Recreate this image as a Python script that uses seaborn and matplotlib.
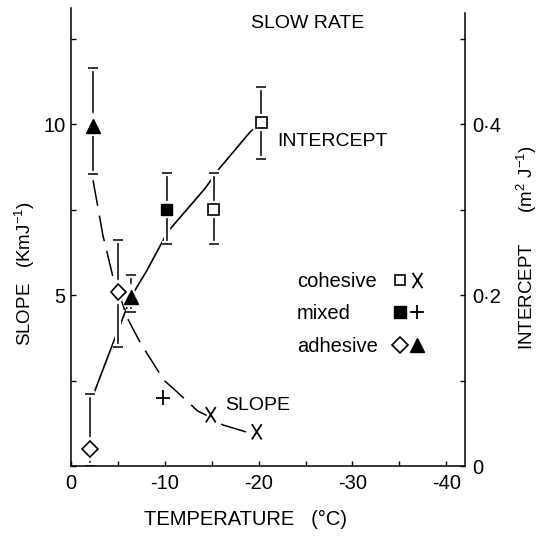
import matplotlib
matplotlib.use("Agg")
import matplotlib.pyplot as plt
import matplotlib.patheffects as pe
import seaborn as sns
from matplotlib.lines import Line2D
from matplotlib.path import Path
from matplotlib.legend_handler import HandlerTuple
from matplotlib.ticker import MultipleLocator, FuncFormatter

# ---- slope data (left axis, K m J^-1) ----
slope_temp = [-2.35, -5.05, -9.8, -14.9, -19.8]
slope_val = [9.95, 5.1, 2.0, 1.5, 1.0]
slope_mode = ["adhesive", "adhesive", "mixed", "cohesive", "cohesive"]
# error bars on the slope points that carry them
slope_err_temp = [-2.35, -5.05]
slope_err_val = [9.95, 5.1]
slope_err_lo = [8.54, 3.48]
slope_err_hi = [11.64, 6.61]

# ---- intercept data (right axis, m^2 J^-1) ----
int_temp = [-2.0, -6.4, -10.2, -15.2, -20.3]
int_val = [0.020, 0.198, 0.300, 0.300, 0.402]
int_mode = ["adhesive", "adhesive", "mixed", "cohesive", "cohesive"]
int_lo = [0.000, 0.180, 0.260, 0.260, 0.359]
int_hi = [0.084, 0.224, 0.343, 0.343, 0.443]

# ---- hand-fitted trend curves ----
slope_fit_temp = [-2.35, -3.4, -4.5, -5.05, -6.0, -7.4, -9.9, -11.1, -13.5, -14.9, -16.2, -19.0, -19.8]
slope_fit_val = [8.36, 6.75, 5.50, 5.10, 4.33, 3.60, 2.51, 2.22, 1.61, 1.42, 1.20, 0.97, 0.98]
int_fit_temp = [-2.4, -4.7, -6.4, -8.1, -10.3, -14.3, -15.8, -19.1, -20.3]
int_fit_val = [0.084, 0.150, 0.198, 0.229, 0.274, 0.325, 0.348, 0.391, 0.402]

legend_labels = ["cohesive", "mixed", "adhesive"]

sns.set_theme(style="ticks")
plt.rcParams.update({
    "font.family": ["Liberation Sans", "DejaVu Sans"],
    "mathtext.fontset": "custom",
    "mathtext.rm": "Liberation Sans",
    "mathtext.it": "Liberation Sans:italic",
    "mathtext.bf": "Liberation Sans:bold",
    "axes.edgecolor": "black",
    "axes.linewidth": 1.1,
    "xtick.color": "black",
    "ytick.color": "black",
    "text.color": "black",
    "axes.labelcolor": "black",
})

# letter-like X marker
x_mark = Path([(-0.32, -0.5), (0.32, 0.5), (-0.32, 0.5), (0.32, -0.5)],
              [Path.MOVETO, Path.LINETO, Path.MOVETO, Path.LINETO])

tri_style = dict(marker="^", ms=10, mew=1.0, mfc="black", mec="black")
dia_style = dict(marker="D", ms=8, mew=1.2, mfc="white", mec="black")
open_sq = dict(marker="s", ms=7.5, mew=1.2, mfc="white", mec="black")
fill_sq = dict(marker="s", ms=8, mew=1.0, mfc="black", mec="black")
plus_style = dict(marker="+", ms=10.5, mew=1.3, mfc="none", mec="black")
cross_style = dict(marker=x_mark, ms=11, mew=1.3, mfc="none", mec="black")

slope_markers = [tri_style, dia_style, plus_style, cross_style, cross_style]
int_markers = [dia_style, tri_style, fill_sq, open_sq, open_sq]

halo = [pe.Stroke(linewidth=4.5, foreground="white"), pe.Normal()]

fig = plt.figure(figsize=(5.4, 5.36), dpi=100)
fig.patch.set_facecolor("white")
ax = fig.add_axes([71 / 540, 1 - 466 / 536, 394 / 540, 458 / 536])
ax2 = ax.twinx()
ax.set_zorder(ax2.get_zorder() + 1)
ax.patch.set_visible(False)
ax2.patch.set_visible(True)
ax2.patch.set_facecolor("white")

SLOPE_MAX = 13.4
ax.set_xlim(0, -42)
ax.set_ylim(0, SLOPE_MAX)
ax2.set_ylim(0, SLOPE_MAX / 25)

# intercept trend (solid) and slope trend (dashed)
sns.lineplot(x=int_fit_temp, y=int_fit_val, ax=ax2, color="black",
             linewidth=1.2, sort=False, estimator=None, zorder=2)
sns.lineplot(x=slope_fit_temp, y=slope_fit_val, ax=ax, color="black",
             linewidth=1.1, sort=False, estimator=None, zorder=2)
ax.lines[-1].set_linestyle((0, (17, 6.5)))

# intercept error bars and markers
eb = ax2.errorbar(int_temp, int_val,
                  yerr=[[v - lo for v, lo in zip(int_val, int_lo)],
                        [hi - v for v, hi in zip(int_val, int_hi)]],
                  fmt="none", ecolor="black", elinewidth=1.1, capsize=3.6,
                  capthick=1.1, zorder=3)
for art in list(eb[1]) + list(eb[2]):
    art.set_path_effects(halo)
for t, v, st in zip(int_temp, int_val, int_markers):
    ax2.plot([t], [v], ls="none", zorder=4, path_effects=halo, **st)

# slope error bars and markers
eb2 = ax.errorbar(slope_err_temp, slope_err_val,
                  yerr=[[v - lo for v, lo in zip(slope_err_val, slope_err_lo)],
                        [hi - v for v, hi in zip(slope_err_val, slope_err_hi)]],
                  fmt="none", ecolor="black", elinewidth=1.1, capsize=3.6,
                  capthick=1.1, zorder=3)
for art in list(eb2[1]) + list(eb2[2]):
    art.set_path_effects(halo)
for t, v, st in zip(slope_temp, slope_val, slope_markers):
    ax.plot([t], [v], ls="none", zorder=4, path_effects=halo, **st)

# spines
ax.spines["top"].set_visible(False)
ax.spines["right"].set_visible(False)
for s in ("top", "left", "bottom"):
    ax2.spines[s].set_visible(False)
ax2.spines["right"].set_visible(True)
ax2.spines["right"].set_linewidth(1.1)
ax2.spines["right"].set_bounds(0, 0.53)

# ticks
ax.xaxis.set_major_locator(MultipleLocator(10))
ax.xaxis.set_minor_locator(MultipleLocator(5))
ax.yaxis.set_major_locator(MultipleLocator(5))
ax.yaxis.set_minor_locator(MultipleLocator(2.5))
ax2.yaxis.set_major_locator(MultipleLocator(0.2))
ax2.yaxis.set_minor_locator(MultipleLocator(0.1))
ax.xaxis.set_major_formatter(FuncFormatter(lambda v, p: "0" if abs(v) < 1e-9 else f"{v:.0f}"))
ax.yaxis.set_major_formatter(FuncFormatter(lambda v, p: "" if abs(v) < 1e-9 else f"{v:.0f}"))
ax2.yaxis.set_major_formatter(FuncFormatter(
    lambda v, p: "0" if abs(v) < 1e-9 else f"{v:.1f}".replace(".", "\u00b7")))
ax.tick_params(which="both", direction="in", length=3.6, width=1.0,
               top=False, right=False, labelsize=14.5)
ax.tick_params(axis="x", pad=6)
ax.tick_params(axis="y", pad=4)
ax2.tick_params(which="both", direction="in", length=3.6, width=1.0,
                left=False, labelsize=14.5, pad=5)

# legend: label followed by intercept / slope symbols
def mk(st):
    return Line2D([], [], ls="none", **st)

handles = [(mk(open_sq), mk(cross_style)),
           (mk(fill_sq), mk(plus_style)),
           (mk(dia_style), mk(tri_style))]
leg = ax.legend(handles, legend_labels,
                handler_map={tuple: HandlerTuple(ndivide=None, pad=0)},
                markerfirst=False, frameon=False, loc="center left",
                bbox_to_anchor=(0.574, 0.332), borderpad=0, borderaxespad=0,
                handlelength=1.65, handletextpad=0.7, labelspacing=0.68,
                fontsize=14.5)

# left-align the legend labels while the symbols stay in their columns
fig.canvas.draw()
renderer = fig.canvas.get_renderer()
widths = [t.get_window_extent(renderer).width for t in leg.get_texts()]
wmax = max(widths)
for t, w in zip(leg.get_texts(), widths):
    t.set_position((-(wmax - w), 0))

# annotations
ax.text(-25.2, 12.81, "SLOW RATE", ha="center", va="baseline", fontsize=14)
ax.text(-22.0, 9.35, "INTERCEPT", ha="left", va="baseline", fontsize=14)
ax.text(-16.4, 1.64, "SLOPE", ha="left", va="baseline", fontsize=14)

# axis titles
fig.text(245 / 540, 1 - 525 / 536, "TEMPERATURE   (\u00b0C)", ha="center",
         va="baseline", fontsize=14.5)
fig.text(25 / 540, 1 - 274 / 536, "SLOPE   (KmJ$^{-1}$)", ha="center",
         va="center", rotation=90, fontsize=13.5)
fig.text(527 / 540, 1 - 248 / 536, "INTERCEPT      (m$^{2}$ J$^{-1}$)", ha="center",
         va="center", rotation=90, fontsize=13.5)

fig.savefig("out.png", dpi=100, facecolor="white")
